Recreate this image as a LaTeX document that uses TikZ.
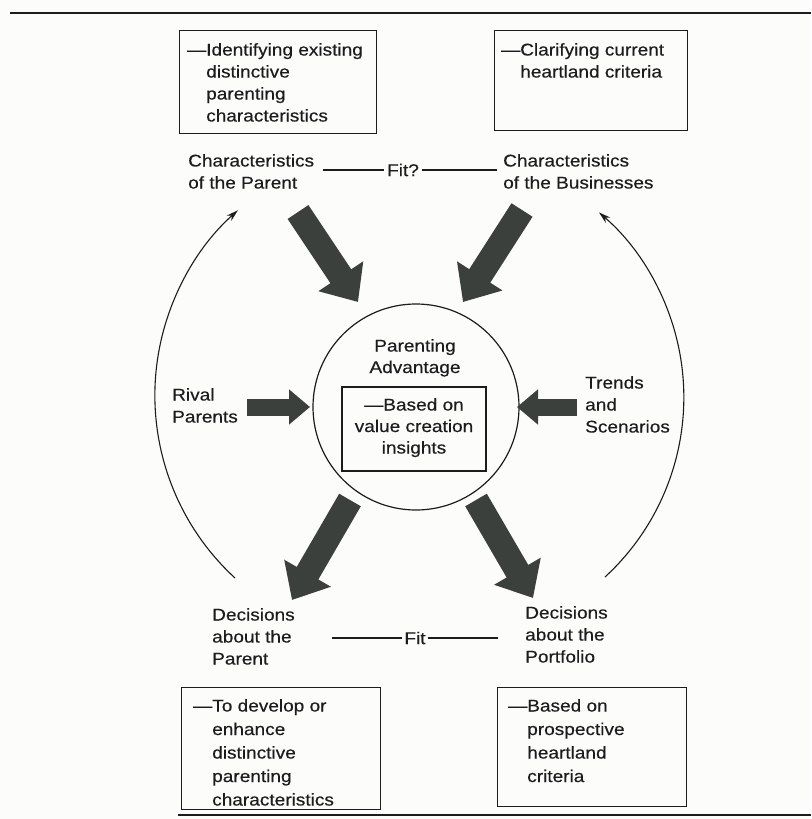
\documentclass[tikz,border=0pt]{standalone}
\usepackage{fontspec}
\setmainfont[FakeStretch=1.12,FakeBold=0.4]{Liberation Sans}
\usetikzlibrary{arrows.meta}

\definecolor{ink}{RGB}{28,28,28}
\definecolor{arrowgray}{RGB}{60,64,60}
\definecolor{paper}{RGB}{252,252,250}

\newcommand{\ind}{\hphantom{—}}

\tikzset{
  lbl/.style={inner sep=0pt, align=left, anchor=north west, text=ink,
    font=\fontsize{17}{22}\selectfont},
  boxtext/.style={lbl, font=\fontsize{17}{23.5}\selectfont},
  ctr/.style={inner sep=0pt, align=center, anchor=north, text=ink,
    font=\fontsize{17}{21.5}\selectfont},
  fitlabel/.style={inner sep=2.5pt, text=ink, font=\fontsize{17}{22}\selectfont},
  frame/.style={draw=ink, line width=1.2pt, inner sep=0pt, anchor=north west},
  fatarrow/.style={draw=arrowgray, line width=25pt,
    -{Triangle[length=31pt,width=52pt]}},
  sidearrow/.style={draw=arrowgray, line width=17pt,
    -{Triangle[length=21pt,width=34pt]}},
  cyclearrow/.style={draw=ink, line width=1.1pt,
    -{Stealth[length=12pt,width=7pt]}},
  fitline/.style={draw=ink, line width=1.1pt},
  rule/.style={draw=ink, line width=2pt},
}

\begin{document}
\begin{tikzpicture}[x=1pt,y=-1pt]
  \useasboundingbox (0,0) rectangle (811,819);
  \fill[paper] (0,0) rectangle (811,819);

  % page rules
  \coordinate (ruleTL) at (10,13);
  \coordinate (ruleTR) at (811,13);
  \coordinate (ruleBL) at (178,815);
  \coordinate (ruleBR) at (811,815);
  \draw[rule] (ruleTL) -- (ruleTR);
  \draw[rule] (ruleBL) -- (ruleBR);

  % boxes at the top
  \node[frame, minimum width=197, minimum height=103] (boxTL) at (179,30) {};
  \node[lbl] (txtTL) at (187,43)
    {—Identifying existing\\\ind distinctive\\\ind parenting\\\ind characteristics};
  \node[frame, minimum width=193, minimum height=100] (boxTR) at (494,30) {};
  \node[lbl] (txtTR) at (501,43)
    {—Clarifying current\\\ind heartland criteria};

  % characteristics and their fit
  \node[lbl] (charP) at (188,154) {Characteristics\\of the Parent};
  \node[lbl] (charB) at (503,154) {Characteristics\\of the Businesses};
  \node[fitlabel] (fitTop) at (403,170) {Fit?};
  \coordinate (fitTopL) at (323,170);
  \coordinate (fitTopR) at (497,170);
  \draw[fitline] (fitTopL) -- (fitTop);
  \draw[fitline] (fitTop) -- (fitTopR);

  % parenting advantage
  \node[circle, draw=ink, line width=1.2pt, minimum size=206, inner sep=0pt]
    (adv) at (416,407) {};
  \node[ctr] (advTitle) at (415,339) {Parenting\\Advantage};
  \node[frame, anchor=center, minimum width=144, minimum height=84]
    (insight) at (414,429) {};
  \node[ctr] (insightTxt) at (414,398) {—Based on\\value creation\\insights};

  % heavy arrows into and out of the circle
  \coordinate (inTLs) at (298,212);  \coordinate (inTLe) at (358,302);
  \coordinate (inTRs) at (522,210);  \coordinate (inTRe) at (463,302);
  \coordinate (outBLs) at (350,500); \coordinate (outBLe) at (292,600);
  \coordinate (outBRs) at (476,500); \coordinate (outBRe) at (533,598);
  \draw[fatarrow] (inTLs) -- (inTLe);
  \draw[fatarrow] (inTRs) -- (inTRe);
  \draw[fatarrow] (outBLs) -- (outBLe);
  \draw[fatarrow] (outBRs) -- (outBRe);

  % side influences
  \node[lbl] (rival) at (172,388) {Rival\\Parents};
  \node[lbl] (trends) at (585,376) {Trends\\and\\Scenarios};
  \coordinate (rivalS) at (247,407); \coordinate (rivalE) at (310,407);
  \coordinate (trendS) at (577,407); \coordinate (trendE) at (517,407);
  \draw[sidearrow] (rivalS) -- (rivalE);
  \draw[sidearrow] (trendS) -- (trendE);

  % feedback arcs
  \coordinate (arcLs) at (235,578);
  \coordinate (arcRs) at (605,577);
  \draw[cyclearrow] (arcLs) arc[start angle=132.6, end angle=228.3, radius=248];
  \draw[cyclearrow] (arcRs) arc[start angle=47.4, end angle=-49.3, radius=244];

  % decisions and their fit
  \node[lbl] (decP) at (212,608) {Decisions\\about the\\Parent};
  \node[lbl] (decF) at (525,606) {Decisions\\about the\\Portfolio};
  \node[fitlabel] (fitBot) at (415,638) {Fit};
  \coordinate (fitBotL) at (332,638);
  \coordinate (fitBotR) at (498,638);
  \draw[fitline] (fitBotL) -- (fitBot);
  \draw[fitline] (fitBot) -- (fitBotR);

  % boxes at the bottom
  \node[frame, minimum width=199, minimum height=122] (boxBL) at (181,687) {};
  \node[boxtext] (txtBL) at (193,699)
    {—To develop or\\\ind enhance\\\ind distinctive\\\ind parenting\\\ind characteristics};
  \node[frame, minimum width=189, minimum height=119] (boxBR) at (497,687) {};
  \node[boxtext] (txtBR) at (508,699)
    {—Based on\\\ind prospective\\\ind heartland\\\ind criteria};
\end{tikzpicture}
\end{document}
